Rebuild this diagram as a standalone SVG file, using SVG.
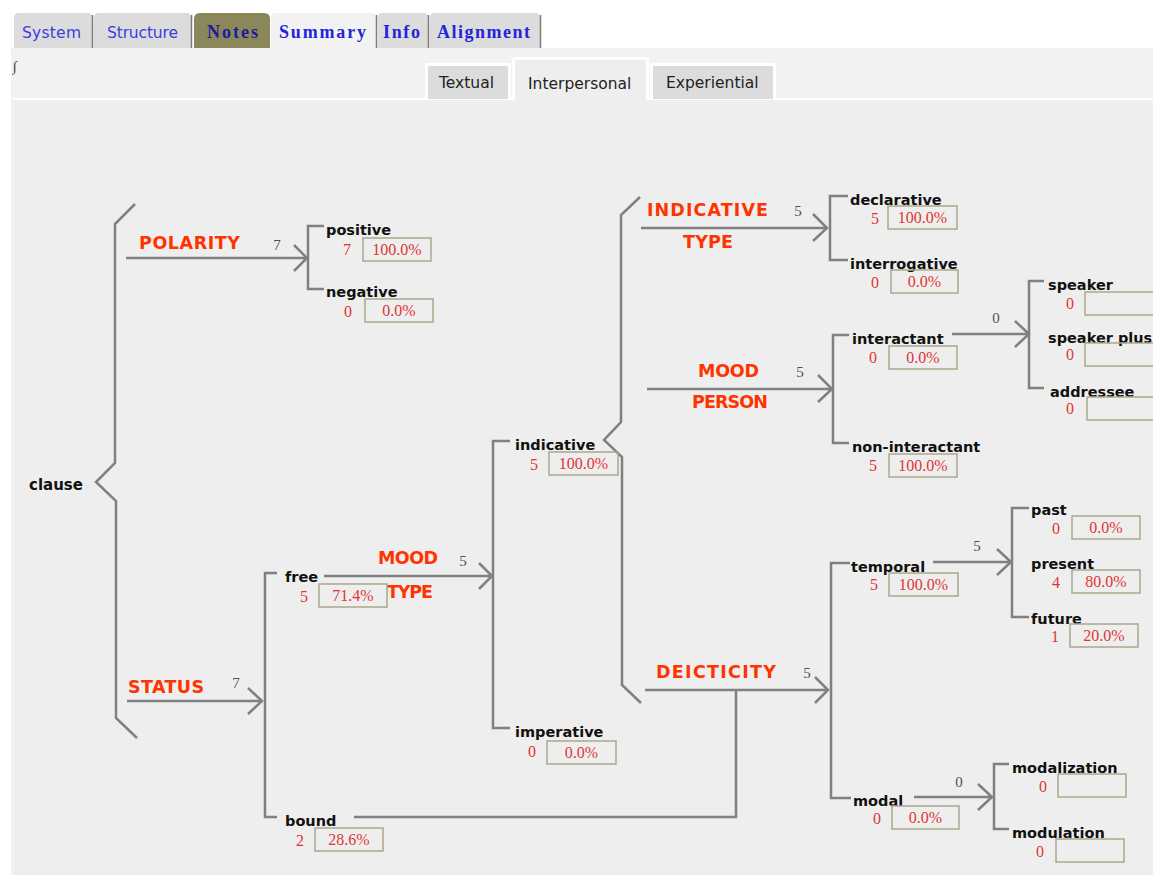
<svg xmlns="http://www.w3.org/2000/svg" width="1153" height="875" viewBox="0 0 1153 875">
<style>
.ln{fill:none;stroke:#808080;stroke-width:2.5;stroke-linejoin:miter;stroke-linecap:butt}
.lab{font-family:'DejaVu Sans',Verdana,sans-serif;font-weight:bold;font-size:14.5px;fill:#111}
.sys{font-family:'DejaVu Sans',Verdana,sans-serif;font-weight:bold;font-size:17.5px;fill:#ff3300}
.cnt{font-family:'Liberation Serif',serif;font-size:15px;fill:#4d524d;text-anchor:middle}
.num{font-family:'Liberation Serif',serif;font-size:16px;fill:#e03535;text-anchor:middle}
.box{fill:none;stroke:#aaa88a;stroke-width:1.5}
.tab{fill:#dcdcdc}
.tbd{stroke:#7a7a7a;stroke-width:1.5}
.t1{font-family:'DejaVu Sans',sans-serif;font-size:15.5px;fill:#3d3ddc}
.t2{font-family:'Liberation Serif',serif;font-weight:bold;font-size:18px;fill:#2424d8}
.st{font-family:'DejaVu Sans',sans-serif;font-size:15.5px;fill:#222}
</style>
<rect x="0" y="0" width="1153" height="875" fill="#ffffff"/>
<rect x="11" y="48" width="1142" height="827" fill="#f2f2f2"/>
<rect x="14" y="100" width="1139" height="775" fill="#eeeeee"/>
<line x1="14" y1="99" x2="1153" y2="99" stroke="#ffffff" stroke-width="2"/>

<g id="tabs">
<path class="tab" d="M14,48 V18 Q14,13 19,13 H88 Q92,13 92,18 V48 Z"/>
<line class="tbd" x1="92.5" y1="15" x2="92.5" y2="48"/>
<path class="tab" d="M94,48 V18 Q94,13 99,13 H187 Q191,13 191,18 V48 Z"/>
<line class="tbd" x1="191.5" y1="15" x2="191.5" y2="48"/>
<path fill="#8b875a" d="M194,48 V19 Q194,13 200,13 H264 Q270,13 270,19 V48 Z"/>
<path fill="#f2f2f2" d="M271,48 V18 Q271,13 276,13 H372 Q376,13 376,18 V48 Z"/>
<line class="tbd" x1="376.5" y1="15" x2="376.5" y2="48"/>
<path class="tab" d="M378,48 V18 Q378,13 382,13 H424 Q428,13 428,18 V48 Z"/>
<line class="tbd" x1="428.5" y1="15" x2="428.5" y2="48"/>
<path class="tab" d="M430,48 V18 Q430,13 434,13 H536 Q540,13 540,18 V48 Z"/>
<line class="tbd" x1="540.5" y1="15" x2="540.5" y2="48"/>
<text class="t1" x="22" y="38" textLength="59">System</text>
<text class="t1" x="107" y="38" textLength="71">Structure</text>
<text class="t2" x="207" y="38" textLength="51" style="fill:#1c1c9c">Notes</text>
<text class="t2" x="279" y="38" textLength="87">Summary</text>
<text class="t2" x="383" y="38" textLength="37">Info</text>
<text class="t2" x="437" y="38" textLength="93">Alignment</text>
<text x="13" y="71" style="font-family:'Liberation Serif',serif;font-style:italic;font-size:14px;fill:#333">∫</text>
</g>

<g id="subtabs">
<rect x="425" y="63" width="86" height="37" rx="3" fill="#ffffff"/>
<rect x="428" y="66" width="80" height="33" fill="#dcdcdc"/>
<rect x="512" y="57" width="137" height="44" rx="4" fill="#ffffff"/>
<rect x="515" y="60" width="131" height="42" fill="#eeeeee"/>
<rect x="650" y="63" width="126" height="37" rx="3" fill="#ffffff"/>
<rect x="653" y="66" width="120" height="33" fill="#dcdcdc"/>
<text class="st" x="439" y="88">Textual</text>
<text class="st" x="528" y="89">Interpersonal</text>
<text class="st" x="666" y="88">Experiential</text>
</g>

<g id="connectors">
<path class="ln" d="M135,204 L115,224 L115,463 L96,482 L116,501 L116,718 L137,738"/>
<path class="ln" d="M126,258 H307 M294,245 L307,258 L294,271"/>
<path class="ln" d="M324,226 H308 V289 H324"/>
<path class="ln" d="M127,701 H262 M248,688 L262,701 L248,714"/>
<path class="ln" d="M277,573 H265 V817 H277"/>
<path class="ln" d="M324,576 H492 M479,563 L492,576 L479,589"/>
<path class="ln" d="M354,817 H736 V690"/>
<path class="ln" d="M510,441 H493 V728 H510"/>
<path class="ln" d="M640,197 L621,215 L621,422 L604,440 L622,457 L622,685 L641,703"/>
<path class="ln" d="M641,228 H827 M813,214 L827,228 L813,241"/>
<path class="ln" d="M848,196 H830 V260 H848"/>
<path class="ln" d="M647,389 H832 M818,375 L832,389 L818,402"/>
<path class="ln" d="M849,335 H833 V443 H849"/>
<path class="ln" d="M952,334 H1029 M1015,321 L1029,334 L1015,347"/>
<path class="ln" d="M1044,281 H1029 V388 H1044"/>
<path class="ln" d="M645,690 H828 M815,677 L828,690 L815,703"/>
<path class="ln" d="M850,563 H831 V798 H851"/>
<path class="ln" d="M933,562 H1011 M997,549 L1011,562 L997,575"/>
<path class="ln" d="M1029,508 H1012 V617 H1029"/>
<path class="ln" d="M914,797 H992 M978,784 L992,797 L978,810"/>
<path class="ln" d="M1009,764 H994 V829 H1009"/>
</g>

<g id="systems">
<g id="sys-polarity"><text class="sys" x="139" y="249" textLength="101">POLARITY</text><text class="cnt" x="277" y="250">7</text></g>
<g id="sys-status"><text class="sys" x="128" y="693" textLength="76">STATUS</text><text class="cnt" x="236" y="688">7</text></g>
<g id="sys-moodtype"><text class="sys" x="378" y="564" textLength="60">MOOD</text><text class="sys" x="387" y="598" textLength="46">TYPE</text><text class="cnt" x="463" y="566">5</text></g>
<g id="sys-indicativetype"><text class="sys" x="647" y="216" textLength="121">INDICATIVE</text><text class="sys" x="683" y="248" textLength="50">TYPE</text><text class="cnt" x="798" y="216">5</text></g>
<g id="sys-moodperson"><text class="sys" x="698" y="377" textLength="61">MOOD</text><text class="sys" x="692" y="408" textLength="76">PERSON</text><text class="cnt" x="800" y="377">5</text></g>
<g id="sys-deicticity"><text class="sys" x="656" y="678" textLength="120">DEICTICITY</text><text class="cnt" x="807" y="678">5</text></g>
<g id="sys-person"><text class="cnt" x="996" y="323">0</text></g>
<g id="sys-tense"><text class="cnt" x="977" y="551">5</text></g>
<g id="sys-modality"><text class="cnt" x="959" y="787">0</text></g>
</g>

<g id="clause"><text class="lab" x="29" y="490" style="font-size:15px">clause</text></g>

<g id="positive"><text class="lab" x="326" y="235">positive</text><text class="num" x="347" y="255">7</text><rect class="box" x="363" y="238" width="68" height="23"/><text class="num" x="397" y="255">100.0%</text></g>
<g id="negative"><text class="lab" x="326" y="297">negative</text><text class="num" x="348" y="317">0</text><rect class="box" x="365" y="299" width="68" height="23"/><text class="num" x="399" y="316">0.0%</text></g>

<g id="free"><text class="lab" x="285" y="582">free</text><text class="num" x="304" y="602">5</text><rect class="box" x="319" y="584" width="68" height="23"/><text class="num" x="353" y="601">71.4%</text></g>
<g id="bound"><text class="lab" x="285" y="826">bound</text><text class="num" x="300" y="846">2</text><rect class="box" x="315" y="828" width="68" height="23"/><text class="num" x="349" y="845">28.6%</text></g>

<g id="indicative"><text class="lab" x="515" y="450">indicative</text><text class="num" x="534" y="470">5</text><rect class="box" x="549" y="452" width="69" height="23"/><text class="num" x="583.5" y="469">100.0%</text></g>
<g id="imperative"><text class="lab" x="515" y="737">imperative</text><text class="num" x="532" y="757">0</text><rect class="box" x="547" y="741" width="69" height="23"/><text class="num" x="581.5" y="758">0.0%</text></g>

<g id="declarative"><text class="lab" x="850" y="205">declarative</text><text class="num" x="875" y="224">5</text><rect class="box" x="888" y="206" width="69" height="23"/><text class="num" x="922.5" y="223">100.0%</text></g>
<g id="interrogative"><text class="lab" x="850" y="269">interrogative</text><text class="num" x="875" y="288">0</text><rect class="box" x="891" y="270" width="67" height="23"/><text class="num" x="924.5" y="287">0.0%</text></g>

<g id="interactant"><text class="lab" x="852" y="344">interactant</text><text class="num" x="873" y="363">0</text><rect class="box" x="889" y="346" width="68" height="23"/><text class="num" x="923" y="363">0.0%</text></g>
<g id="non-interactant"><text class="lab" x="852" y="452">non-interactant</text><text class="num" x="873" y="471">5</text><rect class="box" x="889" y="454" width="68" height="23"/><text class="num" x="923" y="471">100.0%</text></g>

<g id="speaker"><text class="lab" x="1048" y="290">speaker</text><text class="num" x="1070" y="309">0</text><rect class="box" x="1085" y="292" width="70" height="23"/></g>
<g id="speaker-plus"><text class="lab" x="1048" y="343">speaker plus</text><text class="num" x="1070" y="360">0</text><rect class="box" x="1085" y="343" width="70" height="23"/></g>
<g id="addressee"><text class="lab" x="1050" y="397">addressee</text><text class="num" x="1070" y="414">0</text><rect class="box" x="1087" y="397" width="70" height="23"/></g>

<g id="temporal"><text class="lab" x="851" y="572">temporal</text><text class="num" x="874" y="590">5</text><rect class="box" x="889" y="573" width="69" height="23"/><text class="num" x="923.5" y="590">100.0%</text></g>
<g id="modal"><text class="lab" x="853" y="806">modal</text><text class="num" x="877" y="824">0</text><rect class="box" x="892" y="806" width="67" height="23"/><text class="num" x="925.5" y="823">0.0%</text></g>

<g id="past"><text class="lab" x="1031" y="515">past</text><text class="num" x="1056" y="534">0</text><rect class="box" x="1072" y="516" width="68" height="23"/><text class="num" x="1106" y="533">0.0%</text></g>
<g id="present"><text class="lab" x="1031" y="569">present</text><text class="num" x="1056" y="588">4</text><rect class="box" x="1072" y="570" width="68" height="23"/><text class="num" x="1106" y="587">80.0%</text></g>
<g id="future"><text class="lab" x="1031" y="624">future</text><text class="num" x="1055" y="642">1</text><rect class="box" x="1070" y="624" width="68" height="23"/><text class="num" x="1104" y="641">20.0%</text></g>

<g id="modalization"><text class="lab" x="1012" y="773">modalization</text><text class="num" x="1043" y="792">0</text><rect class="box" x="1058" y="774" width="68" height="23"/></g>
<g id="modulation"><text class="lab" x="1012" y="838">modulation</text><text class="num" x="1040" y="857">0</text><rect class="box" x="1056" y="839" width="68" height="23"/></g>
</svg>
